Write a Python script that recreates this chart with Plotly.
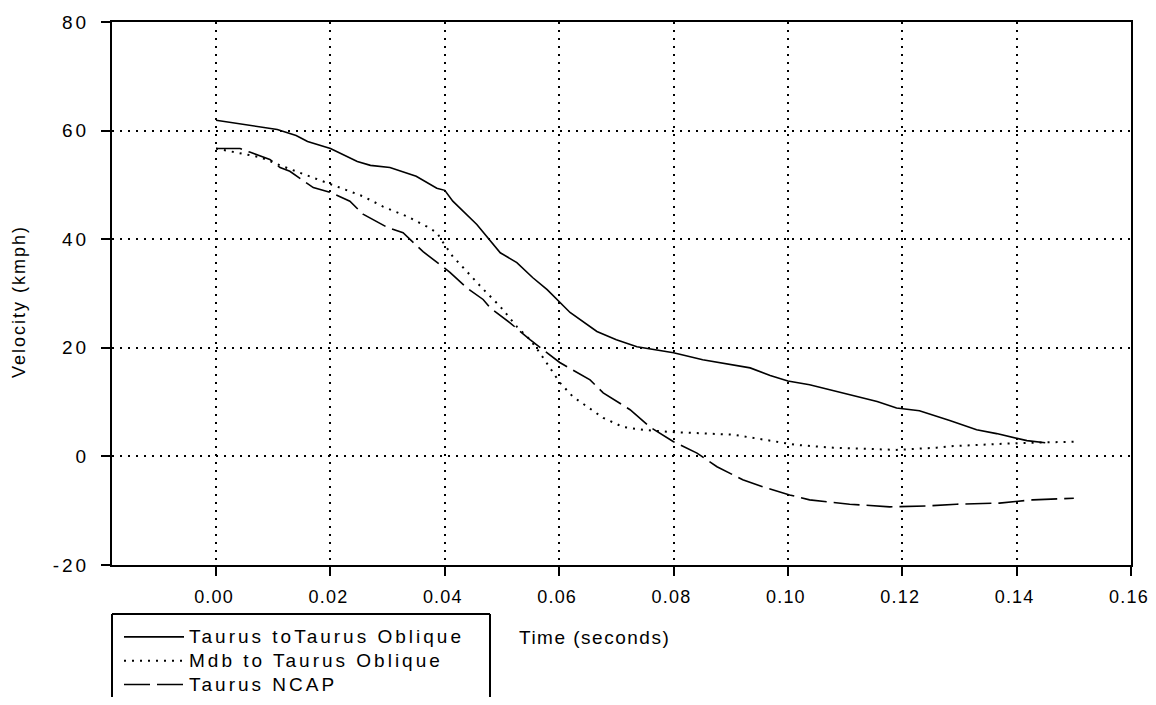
import plotly.graph_objects as go

# ---- data ----
t_taurus = [0, 0.0037, 0.0107, 0.014, 0.016, 0.02, 0.0247, 0.027, 0.0304, 0.035, 0.0386, 0.04,
            0.0414, 0.0456, 0.0479, 0.0497, 0.0526, 0.0554, 0.0579, 0.0596, 0.0619, 0.0666, 0.07,
            0.0736, 0.08, 0.0851, 0.0899, 0.0934, 0.0969, 0.1, 0.1038, 0.1073, 0.1103, 0.1156,
            0.119, 0.123, 0.1283, 0.133, 0.1365, 0.14, 0.1418, 0.145]
v_taurus = [61.9, 61.3, 60.2, 59.1, 58.0, 56.7, 54.3, 53.6, 53.2, 51.6, 49.4, 49.0,
            47.0, 42.7, 39.9, 37.5, 35.7, 32.9, 30.7, 28.9, 26.5, 23.0, 21.5,
            20.2, 19.1, 17.8, 16.9, 16.3, 14.9, 13.9, 13.2, 12.3, 11.5, 10.1,
            8.9, 8.4, 6.6, 4.9, 4.2, 3.4, 2.9, 2.5]

t_mdb = [0, 0.0042, 0.0077, 0.0112, 0.0177, 0.0222, 0.0257, 0.0292, 0.0334, 0.0369, 0.0386,
         0.0397, 0.0414, 0.0432, 0.0467, 0.0497, 0.0526, 0.0549, 0.0566, 0.0584, 0.0601, 0.0624,
         0.0649, 0.0677, 0.0712, 0.0747, 0.0794, 0.0846, 0.0904, 0.0963, 0.1016, 0.1079, 0.119,
         0.126, 0.1289, 0.137, 0.1418, 0.15]
v_mdb = [56.7, 55.8, 55.1, 53.6, 51.0, 49.2, 47.9, 46.0, 44.2, 42.3, 41.2,
         39.4, 36.8, 34.8, 30.8, 27.6, 23.9, 21.5, 19.1, 16.3, 13.6, 11.0,
         9.1, 7.1, 5.4, 4.9, 4.5, 4.3, 4.0, 3.0, 2.1, 1.6, 1.2,
         1.6, 1.9, 2.3, 2.5, 2.7]

t_ncap = [0, 0.0042, 0.006, 0.0094, 0.0112, 0.0129, 0.017, 0.02, 0.0234, 0.0257, 0.0299, 0.0327,
          0.0362, 0.0386, 0.0409, 0.0439, 0.0467, 0.0479, 0.0514, 0.0549, 0.0572, 0.0601, 0.0614,
          0.0654, 0.0677, 0.0724, 0.0759, 0.08, 0.0841, 0.0876, 0.0921, 0.0956, 0.1003, 0.1038,
          0.1108, 0.1178, 0.1248, 0.1295, 0.137, 0.1428, 0.15]
v_ncap = [56.7, 56.7, 56.0, 54.7, 53.2, 52.5, 49.5, 48.6, 47.0, 44.6, 42.2, 41.2,
          37.7, 35.7, 33.9, 31.0, 28.9, 27.4, 24.6, 21.5, 19.7, 17.3, 16.5,
          14.1, 11.7, 8.6, 5.4, 2.7, 0.6, -1.9, -4.3, -5.6, -7.1, -8.0,
          -8.8, -9.3, -9.1, -8.8, -8.6, -8.0, -7.7]

series_names = ["Taurus toTaurus Oblique", "Mdb to Taurus Oblique", "Taurus NCAP"]
x_ticks = [0.00, 0.02, 0.04, 0.06, 0.08, 0.10, 0.12, 0.14, 0.16]
y_ticks = [-20, 0, 20, 40, 60, 80]
x_title = "Time (seconds)"
y_title = "Velocity (kmph)"

FONT = "Liberation Sans, Arial, sans-serif"


def spaced(s, ls, size=None):
    st = "letter-spacing:%spx" % ls
    if size:
        st += ";font-size:%spx" % size
    return '<span style="%s">%s</span>' % (st, s)


fig = go.Figure()
fig.add_trace(go.Scatter(x=t_taurus, y=v_taurus, mode="lines",
                         name=spaced(series_names[0], 3, 19),
                         line=dict(color="black", width=1.6)))
fig.add_trace(go.Scatter(x=t_mdb, y=v_mdb, mode="lines",
                         name=spaced(series_names[1], 3, 19),
                         line=dict(color="black", width=2, dash="2px,6px")))
fig.add_trace(go.Scatter(x=t_ncap, y=v_ncap, mode="lines",
                         name=spaced(series_names[2], 3, 19),
                         line=dict(color="black", width=1.6, dash="26px,7px")))

# the page puts the figure 8px in from the top-left corner; keep the figure inside
# the window so that no scrollbars appear
OFF = 8
W, H = 1156 - 2 * OFF, 705 - 2 * OFF
PL, PR, PT, PB = 112, 1131, 22, 565          # plot box in page pixels
L, R, T, B = PL - OFF, W - (PR - OFF), PT - OFF, H - (PB - OFF)
pw, ph = W - L - R, H - T - B


def px2paper_x(px):
    return (px - OFF - L) / pw


def px2paper_y(py):
    return (H - B - (py - OFF)) / ph


axis_common = dict(
    showline=True, linecolor="black", linewidth=2, mirror=True,
    ticks="outside", ticklen=9, tickwidth=2, tickcolor="black",
    showgrid=True, gridcolor="black", gridwidth=1.6, griddash="2px,6px",
    zeroline=False, automargin=False,
    tickfont=dict(family=FONT, size=19, color="black"),
)

fig.update_xaxes(range=[-0.0182, 0.16], tickvals=x_ticks,
                 ticktext=[spaced("%.2f" % v, 1.2) for v in x_ticks],
                 ticklabelstandoff=5, ticklabelshift=-2, ticklabeloverflow="allow",
                 **axis_common)
fig.update_xaxes(tickfont=dict(family=FONT, size=18, color="black"))
fig.update_yaxes(range=[-20, 80], tickvals=y_ticks,
                 ticktext=[spaced("%d" % v, 3) for v in y_ticks],
                 ticklabelstandoff=8, **axis_common)

# legend box (open at bottom, extends past figure edge)
bx0, bx1, by0 = px2paper_x(112), px2paper_x(490), px2paper_y(614)
by_bottom = px2paper_y(730)
for (xa, ya, xb, yb) in [(bx0, by0, bx1, by0), (bx0, by0, bx0, by_bottom), (bx1, by0, bx1, by_bottom)]:
    fig.add_shape(type="line", xref="paper", yref="paper", x0=xa, y0=ya, x1=xb, y1=yb,
                  line=dict(color="black", width=2))

fig.add_annotation(text=spaced(x_title, 1.5), xref="paper", yref="paper",
                   x=px2paper_x(517), y=px2paper_y(637), xanchor="left", yanchor="middle",
                   showarrow=False, font=dict(family=FONT, size=19, color="black"))
fig.add_annotation(text=spaced(y_title, 2), xref="paper", yref="paper",
                   x=px2paper_x(19), y=px2paper_y(302), xanchor="center", yanchor="middle",
                   textangle=-90, showarrow=False,
                   font=dict(family=FONT, size=18, color="black"))

fig.update_layout(
    width=W, height=H,
    margin=dict(l=L, r=R, t=T, b=B, autoexpand=False),
    plot_bgcolor="white", paper_bgcolor="white",
    font=dict(family=FONT, color="black"),
    showlegend=True,
    legend=dict(x=px2paper_x(119), y=px2paper_y(620), xanchor="left", yanchor="top",
                bgcolor="rgba(0,0,0,0)", borderwidth=0, itemwidth=60,
                font=dict(family=FONT, size=16, color="black"),
                tracegroupgap=0),
)

fig.write_html("out.html")
